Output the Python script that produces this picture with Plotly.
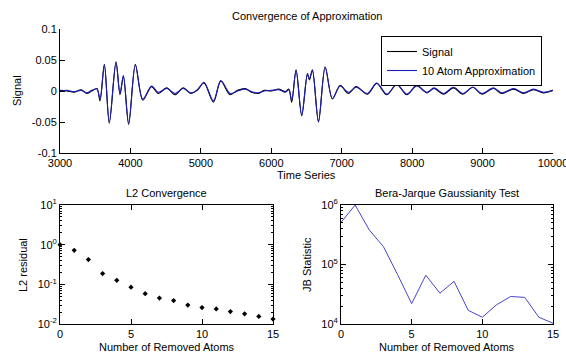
import plotly.graph_objects as go

W, H = 566, 358

# ---------------- data ----------------
time_knots = [3000, 3100, 3200, 3300, 3383, 3450, 3525, 3568, 3630, 3700, 3795, 3852, 3900,
              3975, 4070, 4175, 4300, 4395, 4515, 4633, 4750, 4856, 4950, 5045, 5178, 5283,
              5415, 5520, 5628, 5720, 5812, 5900, 6000, 6110, 6200, 6250, 6290, 6352, 6432,
              6513, 6541, 6584, 6670, 6765, 6868, 6977, 7095, 7205, 7365, 7497, 7640, 7782,
              7924, 8066, 8208, 8312, 8445, 8587, 8720, 8862, 8990, 9155, 9274, 9440, 9581,
              9723, 9865, 10000]
approx_vals = [0.000, 0.001, -0.001, 0.001, -0.003, 0.001, 0.003, -0.013, 0.042, -0.050, 0.046,
               -0.004, 0.025, -0.052, 0.042, -0.013, 0.008, -0.002, 0.004, -0.004, 0.004, -0.003,
               0.001, 0.014, -0.016, 0.017, -0.004, 0.000, 0.003, -0.001, -0.003, 0.000, 0.001,
               0.002, -0.002, 0.002, -0.015, 0.033, -0.039, 0.027, 0.019, 0.033, -0.049, 0.038,
               -0.012, 0.008, -0.002, 0.006, -0.004, 0.013, -0.005, 0.010, -0.005, 0.008, -0.002,
               0.005, -0.004, 0.006, -0.004, 0.006, -0.004, 0.005, -0.003, 0.004, -0.003, 0.003,
               -0.002, 0.001]
signal_vals = [0.001, 0.000, -0.002, 0.002, -0.004, 0.000, 0.004, -0.016, 0.043, -0.052, 0.047,
               -0.006, 0.024, -0.054, 0.043, -0.015, 0.007, -0.004, 0.005, -0.006, 0.005, -0.004,
               0.002, 0.013, -0.018, 0.016, -0.006, 0.001, 0.004, -0.002, -0.004, 0.001, 0.000,
               0.003, -0.001, 0.003, -0.018, 0.034, -0.040, 0.028, 0.018, 0.034, -0.050, 0.039,
               -0.013, 0.009, -0.004, 0.007, -0.005, 0.012, -0.006, 0.011, -0.006, 0.009, -0.003,
               0.004, -0.005, 0.005, -0.005, 0.006, -0.005, 0.004, -0.004, 0.003, -0.004, 0.002,
               -0.003, 0.001]

atoms_removed = list(range(16))
l2_residual = [1.0, 0.72, 0.42, 0.187, 0.126, 0.085, 0.058, 0.045, 0.039, 0.030, 0.026,
               0.024, 0.0206, 0.018, 0.0155, 0.0133]
jb_statistic = [5.1e5, 1.0e6, 3.8e5, 2.0e5, 6.8e4, 2.2e4, 6.6e4, 3.3e4, 5.2e4, 1.7e4, 1.3e4,
                2.1e4, 2.9e4, 2.8e4, 1.3e4, 1.03e4]

top_xticks = [3000, 4000, 5000, 6000, 7000, 8000, 9000, 10000]
top_xticktext = ["3000", "4000", "5000", "6000", "7000", "8000", "9000", "10000"]
top_yticks = [-0.1, -0.05, 0, 0.05, 0.1]
top_yticktext = ["-0.1", "-0.05", "0", "0.05", "0.1"]
l2_ticks = [0.01, 0.1, 1, 10]
l2_ticktext = ["10<sup>-2</sup>", "10<sup>-1</sup>", "10<sup>0</sup>", "10<sup>1</sup>"]
jb_ticks = [1e4, 1e5, 1e6]
jb_ticktext = ["10<sup>4</sup>", "10<sup>5</sup>", "10<sup>6</sup>"]
atom_ticks = [0, 5, 10, 15]

# ---------------- figure ----------------
FONT = "Liberation Sans, Arial, sans-serif"
BLUE = "rgb(28,28,185)"

def px_x(p):
    return p / W

def px_y(p):
    return 1 - p / H

fig = go.Figure()

fig.add_trace(go.Scatter(x=time_knots, y=signal_vals, mode="lines", name="Signal",
                         line=dict(color="black", width=1.1, shape="spline", smoothing=0.9),
                         xaxis="x", yaxis="y"))
fig.add_trace(go.Scatter(x=time_knots, y=approx_vals, mode="lines", name="10 Atom Approximation",
                         line=dict(color=BLUE, width=1.1, shape="spline", smoothing=0.9),
                         xaxis="x", yaxis="y"))
fig.add_trace(go.Scatter(x=atoms_removed, y=l2_residual, mode="markers", showlegend=False,
                         marker=dict(color="black", size=4, symbol="diamond"),
                         cliponaxis=False, xaxis="x2", yaxis="y2"))
fig.add_trace(go.Scatter(x=atoms_removed, y=jb_statistic, mode="lines", showlegend=False,
                         line=dict(color="rgb(70,70,200)", width=1),
                         xaxis="x3", yaxis="y3"))

axis_common = dict(showline=True, linecolor="black", linewidth=1, ticks="inside",
                   tickcolor="black", ticklen=5, showgrid=False, zeroline=False,
                   automargin=False, ticklabeloverflow="allow",
                   tickfont=dict(size=11, color="black", family=FONT))

top_x = [px_x(60), px_x(553)]
top_y = [px_y(153), px_y(29)]
bl_x = [px_x(60), px_x(273)]
br_x = [px_x(341), px_x(553)]
b_y = [px_y(324), px_y(205)]

minor_log = dict(ticks="inside", ticklen=2, tickcolor="black", dtick="D1", showgrid=False)

fig.update_layout(
    width=W, height=H,
    margin=dict(l=0, r=0, t=0, b=0, autoexpand=False),
    paper_bgcolor="white", plot_bgcolor="white",
    font=dict(family=FONT, size=11, color="black"),
    xaxis=dict(axis_common, domain=top_x, range=[3000, 10000], tickvals=top_xticks,
               ticktext=top_xticktext, anchor="y"),
    yaxis=dict(axis_common, domain=top_y, range=[-0.1, 0.1], tickvals=top_yticks,
               ticktext=top_yticktext, anchor="x"),
    xaxis2=dict(axis_common, domain=bl_x, range=[0, 15], tickvals=atom_ticks, anchor="y2",
                mirror="ticks"),
    yaxis2=dict(axis_common, domain=b_y, type="log", range=[-2, 1], tickvals=l2_ticks,
                ticktext=l2_ticktext, anchor="x2", mirror="ticks", minor=minor_log),
    xaxis3=dict(axis_common, domain=br_x, range=[0, 15], tickvals=atom_ticks, anchor="y3",
                mirror="ticks"),
    yaxis3=dict(axis_common, domain=b_y, type="log", range=[4, 6], tickvals=jb_ticks,
                ticktext=jb_ticktext, anchor="x3", mirror="ticks", minor=minor_log),
    legend=dict(x=px_x(381), y=px_y(36), xanchor="left", yanchor="top",
                bgcolor="white", bordercolor="black", borderwidth=1,
                font=dict(size=11, family=FONT, color="black"),
                itemwidth=30, tracegroupgap=0),
    showlegend=True,
    hovermode=False,
)

ann = [
    ("Convergence of Approximation", (60 + 553) / 2, 16, 0),
    ("Time Series", (60 + 553) / 2, 175, 0),
    ("Signal", 17, 91, -90),
    ("L2 Convergence", (60 + 273) / 2, 193, 0),
    ("Number of Removed Atoms", (60 + 273) / 2, 347, 0),
    ("L2 residual", 23, 265, -90),
    ("Bera-Jarque Gaussianity Test", (341 + 553) / 2, 193, 0),
    ("Number of Removed Atoms", (341 + 553) / 2, 347, 0),
    ("JB Statistic", 307, 265, -90),
]
for text, x, y, ang in ann:
    fig.add_annotation(text=text, x=px_x(x), y=px_y(y), xref="paper", yref="paper",
                       showarrow=False, textangle=ang, xanchor="center", yanchor="middle",
                       font=dict(size=11, family=FONT, color="black"))

fig.write_html("out.html", config={"displayModeBar": False},
               post_script="document.body.style.margin='0';document.body.style.overflow='hidden';")
